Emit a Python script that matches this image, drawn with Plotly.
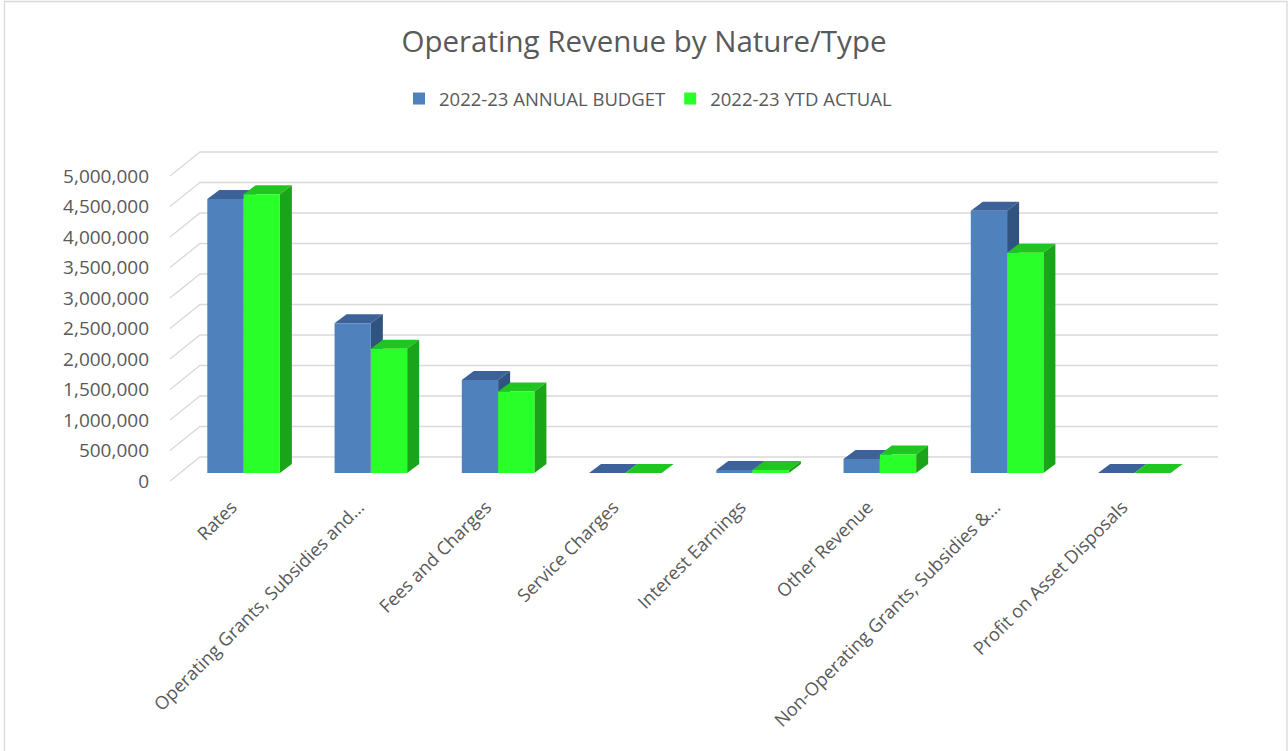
import plotly.graph_objects as go

# ---------------- data ----------------
categories = [
    "Rates",
    "Operating Grants, Subsidies and…",
    "Fees and Charges",
    "Service Charges",
    "Interest Earnings",
    "Other Revenue",
    "Non-Operating Grants, Subsidies &…",
    "Profit on Asset Disposals",
]
budget = [4490000, 2455000, 1525000, 0, 50000, 230000, 4300000, 0]
actual = [4570000, 2035000, 1335000, 0, 50000, 305000, 3610000, 0]
series_names = ["2022-23 ANNUAL BUDGET", "2022-23 YTD ACTUAL"]
y_ticks = [0, 500000, 1000000, 1500000, 2000000, 2500000, 3000000,
           3500000, 4000000, 4500000, 5000000]

# ---------------- layout geometry (screen pixels) ----------------
OFF = 0                  # page offset of the figure
W, H = 1288, 751
PX_PER_CAT = 127.25      # pixels per category
X0_PX = 243.6            # pixel x of first category centre (bar plane)
PX_PER_M = 61.0          # pixels per 1,000,000
Y0_PX = 473.0            # pixel y of zero (bar plane)

BAR_PX = 36.3            # bar front width
DEPTH_DX, DEPTH_DY = 12.0, 9.0     # bar depth oblique offset
BACK_DY = 16.0                     # back wall offset (up) from bar plane
FRONT_DY = -8.0                    # front floor edge offset
GRID_LEFT_PX, GRID_BACK_PX, GRID_RIGHT_PX = 170.0, 200.0, 1218.0

def ux(px):      # pixel width -> category units
    return px / PX_PER_CAT

def uy(px):      # pixel height (upwards) -> value units
    return px / PX_PER_M * 1e6

def xdata(px):   # absolute screen pixel x -> data x
    return (px - X0_PX) / PX_PER_CAT

x_range = [xdata(OFF), xdata(OFF + W)]
y_range = [-uy(OFF + H - Y0_PX), uy(Y0_PX - OFF)]

def px_paper_x(px):
    return (px - OFF) / W

def px_paper_y(py):
    return 1 - (py - OFF) / H

colors_front = ["#4F81BD", "#29FF29"]
colors_top = ["#3C6299", "#20C620"]
colors_side = ["#30537F", "#1AA41A"]

positions = list(range(len(categories)))
bw = ux(BAR_PX)
ddx, ddy = ux(DEPTH_DX), uy(DEPTH_DY)

fig = go.Figure()
shapes = []

# back wall gridlines
for v in y_ticks:
    xa, ya = xdata(GRID_LEFT_PX), v + uy(FRONT_DY)
    xb, yb = xdata(GRID_BACK_PX), v + uy(BACK_DY)
    xc = xdata(GRID_RIGHT_PX)
    shapes.append(dict(type="path", xref="x", yref="y", layer="below",
                       path=f"M{xa},{ya} L{xb},{yb} L{xc},{yb}",
                       line=dict(color="#D9D9D9", width=1.4)))

# 3D top and side faces
for i, pos in enumerate(positions):
    for s, vals in enumerate([budget, actual]):
        v = vals[i]
        L = pos - bw if s == 0 else pos
        R = L + bw
        shapes.append(dict(type="path", xref="x", yref="y", layer="below",
                           path=f"M{L},{v} L{L+ddx},{v+ddy} L{R+ddx},{v+ddy} L{R},{v} Z",
                           fillcolor=colors_top[s], line=dict(width=0)))
        if v > 0:
            shapes.append(dict(type="path", xref="x", yref="y", layer="below",
                               path=f"M{R},0 L{R+ddx},{ddy} L{R+ddx},{v+ddy} L{R},{v} Z",
                               fillcolor=colors_side[s], line=dict(width=0)))

for s, vals in enumerate([budget, actual]):
    fig.add_trace(go.Bar(
        x=positions, y=vals, name=series_names[s],
        width=bw, offset=-bw if s == 0 else 0,
        marker=dict(color=colors_front[s], line=dict(width=0)),
    ))

# chart border
shapes.append(dict(type="rect", xref="paper", yref="paper",
                   x0=px_paper_x(4.5), x1=px_paper_x(1287.0),
                   y0=-0.01, y1=px_paper_y(1.5),
                   line=dict(color="#D9D9D9", width=1.3), layer="below"))

FONT = "Open Sans"
TXT = "#595959"

fig.update_layout(
    width=W, height=H,
    template="none",
    margin=dict(l=0, r=0, t=0, b=0, pad=0),
    paper_bgcolor="white", plot_bgcolor="white",
    barmode="overlay",
    shapes=shapes,
    hovermode=False,
    title=dict(text="Operating Revenue by Nature/Type", x=0.5, xanchor="center",
               y=px_paper_y(42), yanchor="middle",
               font=dict(family=FONT, size=29.5, color=TXT)),
    legend=dict(orientation="h", x=px_paper_x(648), xanchor="center",
                y=px_paper_y(99), yanchor="middle",
                font=dict(family=FONT, size=18.5, color=TXT),
                bgcolor="rgba(0,0,0,0)", itemclick=False),
    xaxis=dict(range=x_range, domain=[0, 1], anchor="free",
               position=px_paper_y(492),
               tickmode="array", tickvals=positions, ticktext=categories,
               tickangle=-45, ticklabelshift=-12,
               showgrid=False, zeroline=False, showline=False,
               ticks="", automargin=False,
               tickfont=dict(family=FONT, size=18.2, color=TXT)),
    yaxis=dict(range=y_range, domain=[0, 1], anchor="free",
               position=px_paper_x(149),
               tickmode="array", tickvals=y_ticks, tickformat=",",
               ticklabelshift=8,
               showgrid=False, zeroline=False, showline=False,
               ticks="", automargin=False,
               tickfont=dict(family=FONT, size=19, color=TXT)),
    showlegend=True,
)

fig.write_html("out.html", config={"displayModeBar": False},
               post_script="document.body.style.margin='0';")
